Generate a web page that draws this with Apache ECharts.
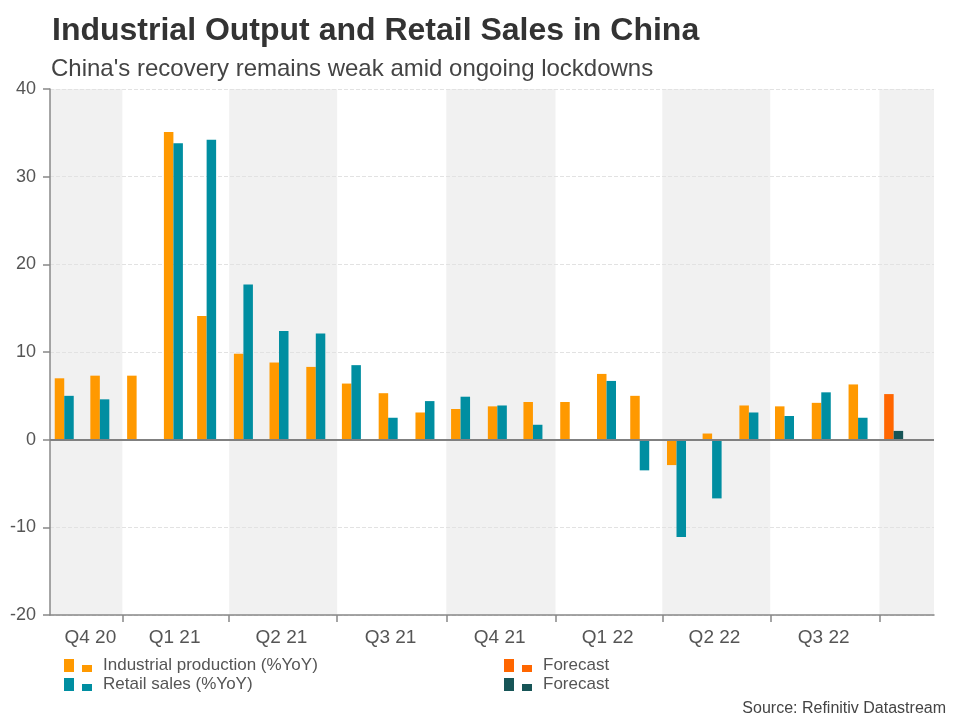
<!DOCTYPE html>
<html>
<head>
    <meta charset="utf-8">
    <script src="https://cdn.jsdelivr.net/npm/echarts@6/dist/echarts.min.js"></script>
    <style>
        html, body { margin: 0; padding: 0; background: #ffffff; }
        #main { width: 960px; height: 720px; }
    </style>
</head>
<body>
    <div id="main"></div>
    <script type="text/javascript">
        // monthly data, plotted around the middle of each month
        var months = ['2020-11-13', '2020-12-13', '2021-01-13', '2021-02-13', '2021-03-13', '2021-04-13',
            '2021-05-13', '2021-06-13', '2021-07-13', '2021-08-13', '2021-09-13', '2021-10-13',
            '2021-11-13', '2021-12-13', '2022-01-13', '2022-02-13', '2022-03-13', '2022-04-13',
            '2022-05-13', '2022-06-13', '2022-07-13', '2022-08-13', '2022-09-13'];
        var industrialProduction = [7.0, 7.3, 7.3, 35.1, 14.1, 9.8, 8.8, 8.3, 6.4, 5.3, 3.1, 3.5,
            3.8, 4.3, 4.3, 7.5, 5.0, -2.9, 0.7, 3.9, 3.8, 4.2, 6.3];
        var retailSales = [5.0, 4.6, null, 33.8, 34.2, 17.7, 12.4, 12.1, 8.5, 2.5, 4.4, 4.9,
            3.9, 1.7, null, 6.7, -3.5, -11.1, -6.7, 3.1, 2.7, 5.4, 2.5];
        var forecastMonth = '2022-10-13';
        var forecastIndustrial = 5.2;
        var forecastRetail = 1.0;

        var axisStart = '2020-11-01';
        var axisEnd = '2022-11-16';
        var shadedQuarters = [['2020-11-01', '2021-01-01'], ['2021-04-01', '2021-07-01'],
            ['2021-10-01', '2022-01-01'], ['2022-04-01', '2022-07-01'], ['2022-10-01', '2022-11-16']];
        var quarterStarts = ['2021-01-01', '2021-04-01', '2021-07-01', '2021-10-01',
            '2022-01-01', '2022-04-01', '2022-07-01', '2022-10-01'];
        var quarterLabels = ['Q4 20', 'Q1 21', 'Q2 21', 'Q3 21', 'Q4 21', 'Q1 22', 'Q2 22', 'Q3 22'];
        var quarterLabelDates = ['2020-12-05', '2021-02-14', '2021-05-15', '2021-08-15',
            '2021-11-15', '2022-02-14', '2022-05-15', '2022-08-15'];

        // x axis runs in days counted from axisStart
        function toDay(s) {
            var p = s.split('-');
            var t = Date.UTC(+p[0], +p[1] - 1, +p[2]);
            var q = axisStart.split('-');
            return (t - Date.UTC(+q[0], +q[1] - 1, +q[2])) / 86400000;
        }

        var font = 'Liberation Sans, Arial, sans-serif';
        var legendIcon = 'path://M0,0L10,0L10,13L0,13ZM18,6L28,6L28,13L18,13ZM34,13L34,13';
        var labelDays = quarterLabelDates.map(toDay);

        var ipData = months.map(function (m, i) { return [toDay(m), industrialProduction[i]]; });
        var rsData = months.map(function (m, i) { return [toDay(m), retailSales[i]]; })
            .filter(function (d) { return d[1] !== null; });

        var myChart = echarts.init(document.getElementById('main'));
        var option = {
            backgroundColor: '#ffffff',
            animation: false,
            title: [{
                text: 'Industrial Output and Retail Sales in China',
                left: 47, top: 10,
                textStyle: { fontFamily: font, fontSize: 32, fontWeight: 'bold', color: '#333333' }
            }, {
                text: "China's recovery remains weak amid ongoing lockdowns",
                left: 46, top: 52,
                textStyle: { fontFamily: font, fontSize: 24, fontWeight: 'normal', color: '#444444' }
            }, {
                text: 'Source: Refinitiv Datastream',
                right: 9, top: 696,
                textStyle: { fontFamily: font, fontSize: 16, fontWeight: 'normal', color: '#444444' }
            }],
            legend: [{
                data: ['Industrial production (%YoY)', 'Retail sales (%YoY)'],
                orient: 'vertical',
                left: 64, top: 657,
                padding: 0,
                itemWidth: 34, itemHeight: 13, itemGap: 2,
                icon: legendIcon,
                selectedMode: false,
                textStyle: { fontFamily: font, fontSize: 17, color: '#555555' }
            }, {
                data: ['Forecast IP', 'Forecast RS'],
                orient: 'vertical',
                left: 504, top: 657,
                padding: 0,
                itemWidth: 34, itemHeight: 13, itemGap: 2,
                icon: legendIcon,
                selectedMode: false,
                formatter: function () { return 'Forecast'; },
                textStyle: { fontFamily: font, fontSize: 17, color: '#555555' }
            }],
            grid: { left: 50, right: 26, top: 89, bottom: 105 },
            xAxis: {
                type: 'value',
                min: 0,
                max: toDay(axisEnd),
                z: 1.5,
                axisLine: { onZero: false, lineStyle: { color: '#888888', width: 1.5 } },
                axisTick: {
                    show: true, length: 7,
                    customValues: quarterStarts.map(toDay),
                    lineStyle: { color: '#888888', width: 1.5 }
                },
                axisLabel: {
                    customValues: labelDays,
                    margin: 13,
                    fontFamily: font, fontSize: 19, color: '#555555',
                    formatter: function (value) {
                        for (var i = 0; i < labelDays.length; i++) {
                            if (Math.abs(value - labelDays[i]) < 0.5) return quarterLabels[i];
                        }
                        return '';
                    }
                },
                splitLine: { show: false }
            },
            yAxis: {
                type: 'value',
                min: -20, max: 40, interval: 10,
                z: 1.5,
                axisLine: { show: true, lineStyle: { color: '#888888', width: 1.5 } },
                axisTick: { show: true, length: 7, lineStyle: { color: '#888888', width: 1.5 } },
                axisLabel: { margin: 14, fontFamily: font, fontSize: 18, color: '#555555' },
                splitLine: { show: true, lineStyle: { color: '#e2e2e2', type: 'dashed', width: 1 } }
            },
            series: [{
                name: 'Industrial production (%YoY)',
                type: 'bar',
                stack: 'ip',
                barWidth: 9.5,
                barGap: '0%',
                itemStyle: { color: '#ff9900' },
                data: ipData,
                markArea: {
                    silent: true,
                    z: 1,
                    itemStyle: { color: '#f1f1f1' },
                    data: shadedQuarters.map(function (q) {
                        return [{ xAxis: toDay(q[0]) }, { xAxis: toDay(q[1]) }];
                    })
                },
                markLine: {
                    silent: true,
                    symbol: ['none', 'none'],
                    label: { show: false },
                    lineStyle: { color: '#808080', width: 2, type: 'solid' },
                    data: [{ yAxis: 0 }]
                }
            }, {
                name: 'Retail sales (%YoY)',
                type: 'bar',
                stack: 'rs',
                barWidth: 9.5,
                barGap: '0%',
                itemStyle: { color: '#008ea1' },
                data: rsData
            }, {
                name: 'Forecast IP',
                type: 'bar',
                stack: 'ip',
                barWidth: 9.5,
                barGap: '0%',
                itemStyle: { color: '#ff6600' },
                data: [[toDay(forecastMonth), forecastIndustrial]]
            }, {
                name: 'Forecast RS',
                type: 'bar',
                stack: 'rs',
                barWidth: 9.5,
                barGap: '0%',
                itemStyle: { color: '#175557' },
                data: [[toDay(forecastMonth), forecastRetail]]
            }]
        };
        myChart.setOption(option);
    </script>
</body>
</html>
